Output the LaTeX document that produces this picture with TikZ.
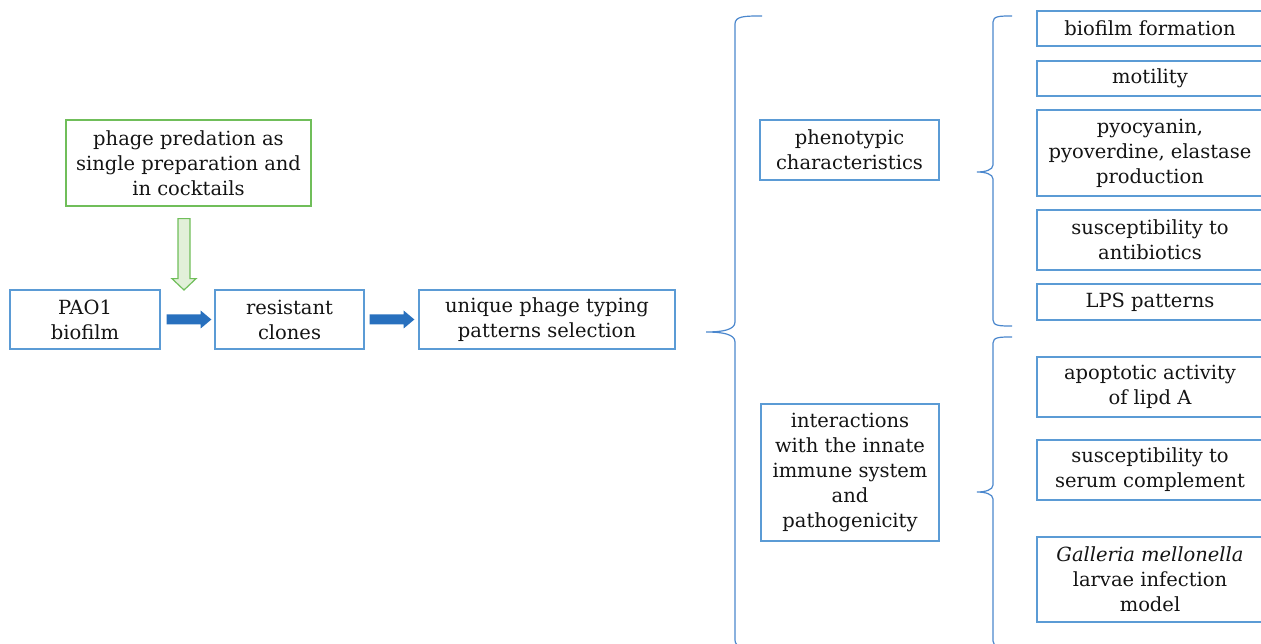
\documentclass[tikz,border=0pt]{standalone}
\usepackage{fontspec}
\setmainfont{DejaVu Serif}
\usetikzlibrary{calc}
\definecolor{boxblue}{RGB}{91,155,213}
\definecolor{braceblue}{RGB}{75,135,205}
\definecolor{arrowblue}{RGB}{40,112,190}
\definecolor{grn}{RGB}{112,190,90}
\definecolor{lgrn}{RGB}{226,240,217}
\begin{document}
\begin{tikzpicture}[x=1pt,y=-1pt,
  box/.style={draw=boxblue, line width=1.3pt, align=center, inner sep=0pt,
    font=\fontsize{19.5}{25}\selectfont, text=black!92},
  gbox/.style={box, draw=grn},
  brace/.style={draw=braceblue, line width=1.2pt},
  blockarrow/.style={fill=arrowblue, draw=none},
  hollowarrow/.style={fill=lgrn, draw=grn, line width=1.2pt}]
\useasboundingbox (0,0) rectangle (1261,644);

% left chain
\node[gbox, minimum width=245, minimum height=86] (phage) at (188.5,163) {phage predation as\\single preparation and\\in cocktails};
\node[box, minimum width=150, minimum height=59] (pao) at (85,319.5) {PAO1\\biofilm};
\node[box, minimum width=149, minimum height=59] (res) at (289.5,319.5) {resistant\\clones};
\node[box, minimum width=256, minimum height=59] (uni) at (547,319.5) {unique phage typing\\patterns selection};

% middle
\node[box, minimum width=179, minimum height=60] (phen) at (849.5,150) {phenotypic\\characteristics};
\node[box, minimum width=178, minimum height=137] (inter) at (850,472.5) {interactions\\with the innate\\immune system\\and\\pathogenicity};

% right column
\node[box, minimum width=226, minimum height=35] (bio) at (1150,28.5) {biofilm formation};
\node[box, minimum width=226, minimum height=35] (mot) at (1150,78.5) {motility};
\node[box, minimum width=226, minimum height=86] (pyo) at (1150,153) {pyocyanin,\\pyoverdine, elastase\\production};
\node[box, minimum width=226, minimum height=60] (ant) at (1150,240) {susceptibility to\\antibiotics};
\node[box, minimum width=226, minimum height=36] (lps) at (1150,302) {LPS patterns};
\node[box, minimum width=226, minimum height=60] (apo) at (1150,387) {apoptotic activity\\of lipd A};
\node[box, minimum width=226, minimum height=60] (ser) at (1150,470) {susceptibility to\\serum complement};
\node[box, minimum width=226, minimum height=85] (gal) at (1150,579.5) {\textit{Galleria mellonella}\\larvae infection\\model};

% block arrows between nodes
\fill[blockarrow] ($(pao.east)+(6,-5)$) -- ++(34,0) -- ++(0,-4) -- ($(res.west)+(-3,0)$) -- ($(pao.east)+(40,9)$) -- ++(0,-4) -- ++(-34,0) -- cycle;
\fill[blockarrow] ($(res.east)+(5,-5)$) -- ++(34,0) -- ++(0,-4) -- ($(uni.west)+(-4,0)$) -- ($(res.east)+(39,9)$) -- ++(0,-4) -- ++(-34,0) -- cycle;

% hollow green arrow
\coordinate (gtop) at ($(phage.south)+(-4.5,12)$);
\filldraw[hollowarrow] ($(gtop)+(-6,0)$) -- ++(12,0) -- ++(0,60) -- ++(6,0) -- (184,290) -- ($(gtop)+(-12,60)$) -- ++(6,0) -- cycle;

% big brace
\coordinate (bt) at (706,332);
\draw[brace] (762,16) .. controls (745,16) and (735,16) .. (735,24) -- (735,322)
  .. controls (735,330) and (722,332) .. (bt)
  .. controls (722,332) and (735,334) .. (735,342) -- (735,640)
  .. controls (735,648) and (745,648) .. (762,648);

% right brace 1
\coordinate (r1) at (977,172);
\draw[brace] (1012,16) .. controls (1000,16) and (993,16) .. (993,22) -- (993,165)
  .. controls (993,170) and (985,172) .. (r1)
  .. controls (985,172) and (993,174) .. (993,179) -- (993,320)
  .. controls (993,326) and (1000,326) .. (1012,326);

% right brace 2
\coordinate (r2) at (977,492);
\draw[brace] (1012,337) .. controls (1000,337) and (993,337) .. (993,343) -- (993,485)
  .. controls (993,490) and (985,492) .. (r2)
  .. controls (985,492) and (993,494) .. (993,499) -- (993,641)
  .. controls (993,647) and (1000,647) .. (1012,647);
\end{tikzpicture}
\end{document}
